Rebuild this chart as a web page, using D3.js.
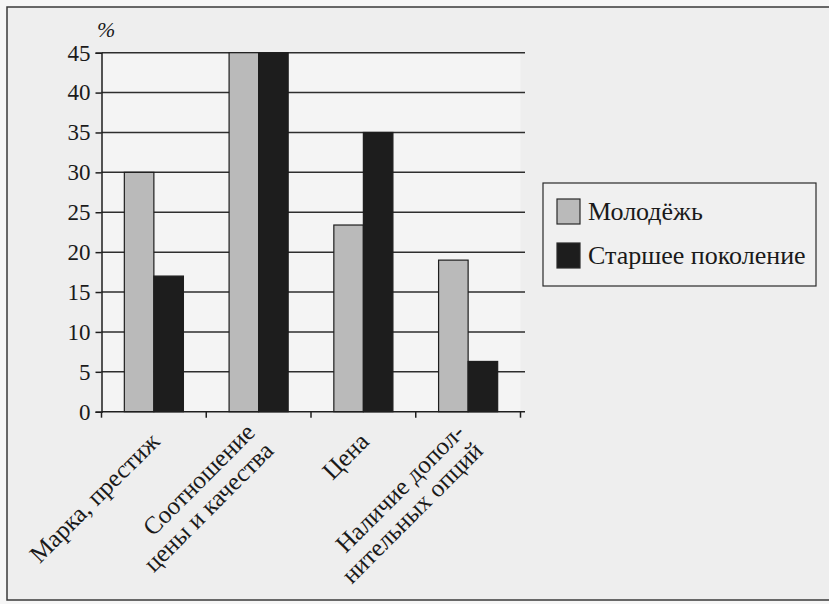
<!DOCTYPE html>
<html>
<head>
<meta charset="utf-8">
<script src="https://cdn.jsdelivr.net/npm/d3@7"></script>
<style>
  body { margin: 0; background: #f6f6f6; }
  svg { display: block; }
</style>
</head>
<body>
<script>
// data
var categories = [
  ["Марка, престиж"],
  ["Соотношение", "цены и качества"],
  ["Цена"],
  ["Наличие допол-", "нительных опций"]
];
var seriesNames = ["Молодёжь", "Старшее поколение"];
var youth = [30, 45, 23.4, 19];
var older = [17, 45, 35, 6.3];
var yTicks = [0, 5, 10, 15, 20, 25, 30, 35, 40, 45];

var width = 829, height = 604;
var fills = ["#bababa", "#1d1d1d"];
var serif = "'Liberation Serif', 'Times New Roman', serif";

var svg = d3.select("body").append("svg")
  .attr("width", width)
  .attr("height", height);

// scanned page frame
svg.append("rect")
  .attr("x", 7).attr("y", 7)
  .attr("width", 840).attr("height", 593)
  .attr("fill", "#eeeeee")
  .attr("stroke", "#3a3a3a")
  .attr("stroke-width", 1.5);

var x0 = 101.5, x1 = 520.5, yTop = 52.7, yBottom = 411.7;

var x = d3.scaleBand()
  .domain(d3.range(categories.length))
  .range([x0, x1])
  .paddingInner(0.436)
  .paddingOuter(0.218);

var xs = d3.scaleBand()
  .domain([0, 1])
  .range([0, x.bandwidth()]);

var y = d3.scaleLinear()
  .domain([0, 45])
  .range([yBottom, yTop]);

// plot area
svg.append("rect")
  .attr("x", x0).attr("y", yTop)
  .attr("width", x1 - x0).attr("height", yBottom - yTop)
  .attr("fill", "#f4f4f4");

// gridlines
svg.append("g")
  .selectAll("line")
  .data(yTicks.slice(1))
  .enter().append("line")
  .attr("x1", x0).attr("x2", 525)
  .attr("y1", function(d) { return y(d); })
  .attr("y2", function(d) { return y(d); })
  .attr("stroke", "#2e2e2e")
  .attr("stroke-width", 1.5);

// y axis
var yAxis = svg.append("g")
  .attr("transform", "translate(" + x0 + ",0)")
  .call(d3.axisLeft(y).tickValues(yTicks).tickSize(6).tickPadding(5));
yAxis.attr("font-family", null).attr("font-size", null);
yAxis.select(".domain").attr("stroke", "#1e1e1e").attr("stroke-width", 1.5);
yAxis.selectAll(".tick line").attr("stroke", "#1e1e1e").attr("stroke-width", 1.5);
yAxis.selectAll(".tick text")
  .attr("fill", "#1a1a1a")
  .style("font-family", serif)
  .style("font-size", "23px");

svg.append("text")
  .attr("x", 97).attr("y", 37)
  .attr("fill", "#1a1a1a")
  .style("font-family", serif)
  .style("font-size", "22px")
  .style("font-style", "italic")
  .text("%");

// bars
var groups = svg.append("g")
  .selectAll("g")
  .data(categories.map(function(c, i) { return [youth[i], older[i]]; }))
  .enter().append("g")
  .attr("transform", function(d, i) { return "translate(" + x(i) + ",0)"; });

groups.selectAll("rect")
  .data(function(d) { return d; })
  .enter().append("rect")
  .attr("x", function(d, i) { return xs(i); })
  .attr("y", function(d) { return y(d); })
  .attr("width", xs.bandwidth())
  .attr("height", function(d) { return yBottom - y(d); })
  .attr("fill", function(d, i) { return fills[i]; })
  .attr("stroke", "#1e1e1e")
  .attr("stroke-width", 1.2);

// x axis
var step = x.step();
svg.append("line")
  .attr("x1", x0).attr("x2", 525)
  .attr("y1", yBottom).attr("y2", yBottom)
  .attr("stroke", "#1e1e1e")
  .attr("stroke-width", 1.5);
svg.append("g")
  .selectAll("line")
  .data(d3.range(categories.length + 1))
  .enter().append("line")
  .attr("x1", function(d) { return x0 + d * step; })
  .attr("x2", function(d) { return x0 + d * step; })
  .attr("y1", yBottom).attr("y2", yBottom + 6)
  .attr("stroke", "#1e1e1e")
  .attr("stroke-width", 1.5);

// rotated category labels
var lineH = 26;
categories.forEach(function(lines, i) {
  var cx = x(i) + x.bandwidth() / 2 + 7;
  var t = svg.append("text")
    .attr("transform", "translate(" + cx + ",443) rotate(-45)")
    .attr("text-anchor", "end")
    .attr("fill", "#1a1a1a")
    .style("font-family", serif)
    .style("font-size", "25px");
  lines.forEach(function(l, j) {
    t.append("tspan")
      .attr("x", 0)
      .attr("y", (j - (lines.length - 1) / 2) * lineH)
      .text(l);
  });
});

// legend
var legend = svg.append("g");
legend.append("rect")
  .attr("x", 543).attr("y", 183)
  .attr("width", 273).attr("height", 103)
  .attr("fill", "#f0f0f0")
  .attr("stroke", "#2a2a2a")
  .attr("stroke-width", 1.2);

seriesNames.forEach(function(name, i) {
  legend.append("rect")
    .attr("x", 557).attr("y", 199 + i * 44)
    .attr("width", 23).attr("height", 25)
    .attr("fill", fills[i])
    .attr("stroke", "#2a2a2a")
    .attr("stroke-width", 1.2);
  legend.append("text")
    .attr("x", 588).attr("y", 220 + i * 44)
    .attr("fill", "#1a1a1a")
    .style("font-family", serif)
    .style("font-size", "26px")
    .text(name);
});
</script>
</body>
</html>
